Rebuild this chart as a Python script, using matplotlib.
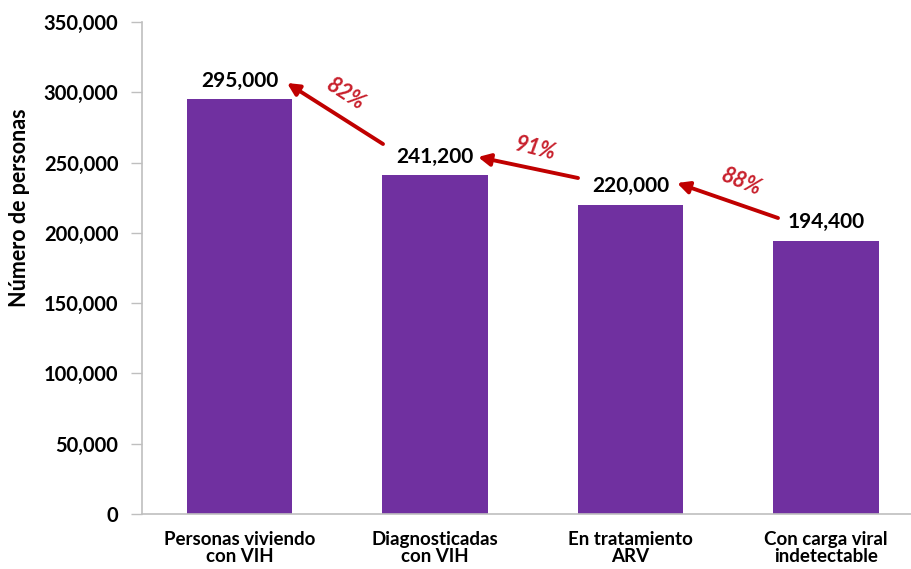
import matplotlib
matplotlib.use("Agg")
import matplotlib.pyplot as plt
from matplotlib.ticker import FuncFormatter

plt.rcParams["font.family"] = ["Lato", "DejaVu Sans"]

# data
categories = ["Personas viviendo\ncon VIH", "Diagnosticadas\ncon VIH",
              "En tratamiento\nARV", "Con carga viral\nindetectable"]
values = [295000, 241200, 220000, 194400]
value_labels = ["295,000", "241,200", "220,000", "194,400"]
pct_labels = ["82%", "91%", "88%"]

BAR_COL = "#7030A0"
RED = "#C00000"
PCT_COL = "#C8202C"
AX_COL = "#BFBFBF"

W, H = 912, 569
fig = plt.figure(figsize=(W / 100, H / 100), dpi=100)
ax = fig.add_axes([142 / W, 1 - 514 / H, (912 - 142) / W, (514 - 22) / H])

x = list(range(len(values)))
ax.bar(x, values, width=0.54, color=BAR_COL, zorder=2)
ax.set_xlim(-0.5, 3.44)
ax.set_ylim(0, 350000)
ax.set_yticks(range(0, 350001, 50000))
ax.yaxis.set_major_formatter(FuncFormatter(lambda v, p: f"{int(v):,}"))
ax.set_xticks(x)
ax.set_xticklabels(categories, fontsize=13.5, fontweight="bold",
                   linespacing=1.05)
ax.tick_params(axis="x", length=0, pad=12)
ax.tick_params(axis="y", length=8, color=AX_COL, width=1, pad=9,
               labelsize=14.5)
for lab in ax.get_yticklabels():
    lab.set_fontweight("bold")
for s in ["top", "right"]:
    ax.spines[s].set_visible(False)
for s in ["left", "bottom"]:
    ax.spines[s].set_color(AX_COL)
    ax.spines[s].set_linewidth(1.2)

fig.text(20 / W, 1 - 208 / H, "Número de personas", rotation=90,
         ha="center", va="center", fontsize=15.5, fontweight="bold")

# value labels above bars
for xi, v, lab in zip(x, values, value_labels):
    ax.annotate(lab, (xi, v), xytext=(0, 6), textcoords="offset points",
                ha="center", va="bottom", fontsize=15, fontweight="bold")

# arrows between bars (data coords via pixel conversion)
def px(xp, yp):
    return ax.transData.inverted().transform(
        fig.transFigure.transform((xp / W, 1 - yp / H)))

fig.canvas.draw()
arrows = [((383, 144), (287, 83)), ((578, 178), (478, 157)),
          ((778, 218), (677, 183))]
pct_pos = [(345, 94, -33), (535, 149, -14), (741, 182, -22)]
for (t, h), (tx, ty, rot), lab in zip(arrows, pct_pos, pct_labels):
    ax.annotate("", xy=px(*h), xytext=px(*t),
                arrowprops=dict(arrowstyle="-|>", color=RED, lw=2.8,
                                mutation_scale=18, shrinkA=0, shrinkB=0))
    fig.text(tx / W, 1 - ty / H, lab, rotation=rot, ha="center",
             va="center", fontsize=15.5, fontweight="bold",
             style="italic", color=PCT_COL)

fig.savefig("out.png", dpi=100)
